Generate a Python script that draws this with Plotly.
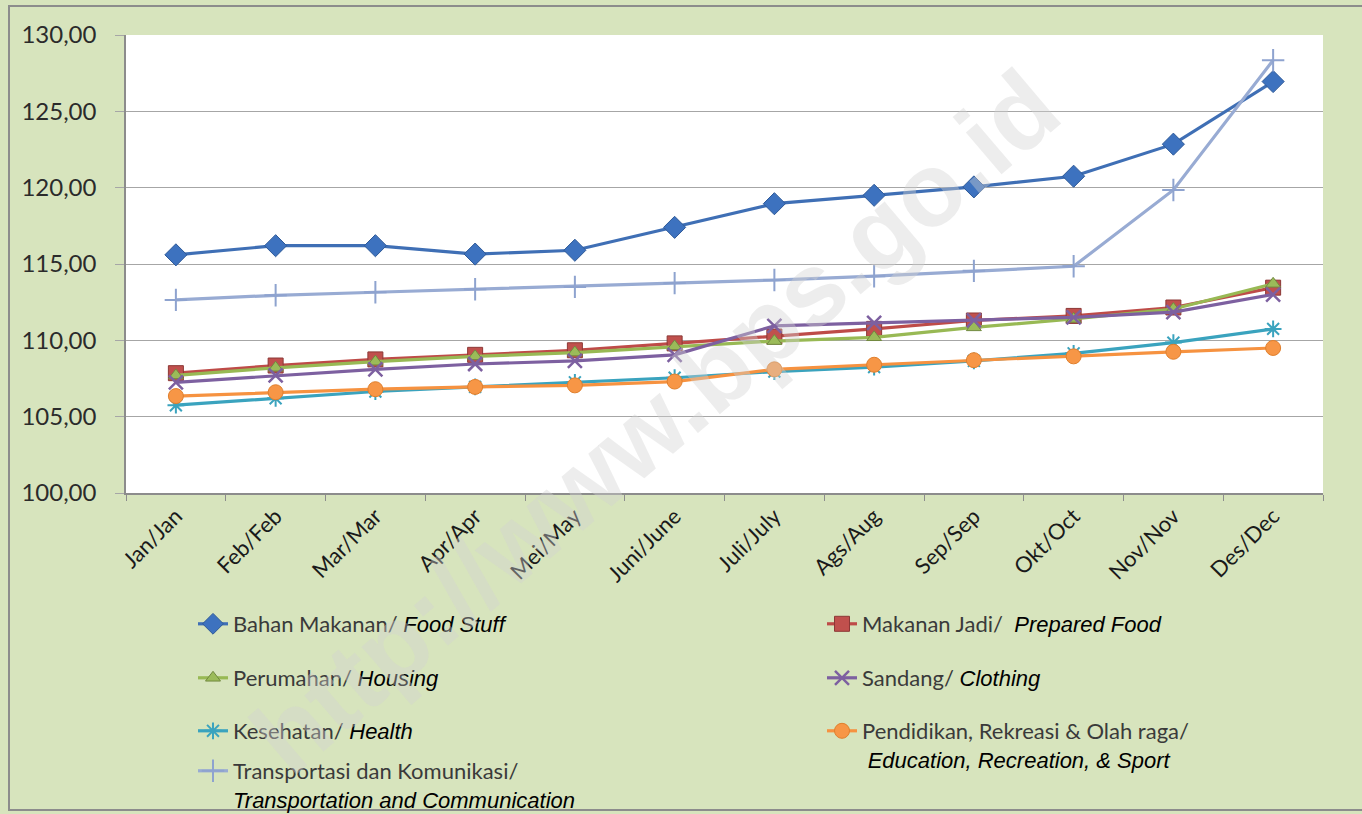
import plotly.graph_objects as go

months = ["Jan/Jan", "Feb/Feb", "Mar/Mar", "Apr/Apr", "Mei/May", "Juni/June",
          "Juli/July", "Ags/Aug", "Sep/Sep", "Okt/Oct", "Nov/Nov", "Des/Dec"]

bahan_makanan = [115.6, 116.2, 116.2, 115.65, 115.9, 117.4, 118.95, 119.5, 120.05, 120.75, 122.85, 126.95]
makanan_jadi = [107.85, 108.35, 108.75, 109.05, 109.35, 109.8, 110.25, 110.75, 111.3, 111.6, 112.15, 113.45]
perumahan = [107.7, 108.2, 108.6, 108.95, 109.2, 109.6, 109.95, 110.2, 110.85, 111.4, 112.05, 113.7]
sandang = [107.25, 107.7, 108.1, 108.45, 108.65, 109.05, 110.95, 111.15, 111.3, 111.5, 111.85, 113.0]
kesehatan = [105.75, 106.2, 106.65, 106.95, 107.25, 107.55, 107.95, 108.25, 108.65, 109.15, 109.85, 110.75]
pendidikan = [106.35, 106.6, 106.8, 106.95, 107.05, 107.3, 108.1, 108.4, 108.7, 108.95, 109.25, 109.5]
transportasi = [112.65, 112.95, 113.15, 113.35, 113.5, 113.75, 113.95, 114.2, 114.55, 114.85, 119.85, 128.35]

EN = "<span style='font-family:Liberation Sans;color:#000000'><i>{}</i></span>"

series = [
    ("Bahan Makanan/ " + EN.format("Food Stuff"), bahan_makanan,
     "#3F6FB5", dict(symbol="diamond", size=17, color="#3D72BF", line=dict(color="#2F5A98", width=1))),
    ("Makanan Jadi/  " + EN.format("Prepared Food"), makanan_jadi,
     "#BE4B48", dict(symbol="square", size=15, color="#C0504D", line=dict(color="#8C3836", width=1))),
    ("Perumahan/ " + EN.format("Housing"), perumahan,
     "#98B954", dict(symbol="triangle-up", size=13, color="#9BBB59", line=dict(color="#71893F", width=1))),
    ("Sandang/ " + EN.format("Clothing"), sandang,
     "#7D60A0", dict(symbol="x-thin-open", size=14, color="#7D60A0", line=dict(color="#7D60A0", width=2.5))),
    ("Kesehatan/ " + EN.format("Health"), kesehatan,
     "#3AA3BE", dict(symbol="asterisk-open", size=14, color="#3AA3BE", line=dict(color="#3AA3BE", width=2))),
    ("Pendidikan, Rekreasi &amp; Olah raga/<br> " + EN.format("Education, Recreation, &amp; Sport"), pendidikan,
     "#F69240", dict(symbol="circle", size=15, color="#F79646", line=dict(color="#E07F2C", width=1))),
    ("Transportasi dan Komunikasi/<br>" + EN.format("Transportation and Communication"), transportasi,
     "#98ABD3", dict(symbol="cross-thin-open", size=16, color="#8EA3CF", line=dict(color="#8EA3CF", width=2))),
]

W, H = 1362, 814

# legend placement (pixel coords of legend top-left)
leg_pos = [(193, 603), (822, 603), (193, 657), (822, 657), (193, 710), (822, 710), (193, 750)]

fig = go.Figure()
layout_legends = {}
for i, (name, vals, lc, mk) in enumerate(series):
    lname = "legend" if i == 0 else f"legend{i+1}"
    fig.add_trace(go.Scatter(
        x=months, y=vals, name=name, mode="lines+markers",
        line=dict(color=lc, width=3.2), marker=mk, legend=lname,
    ))
    px, py = leg_pos[i]
    layout_legends[lname] = dict(
        x=px / W, y=1 - py / H, xref="container", yref="container",
        xanchor="left", yanchor="top", bgcolor="rgba(0,0,0,0)", valign="top",
        font=dict(family="Lato", size=22, color="#3A3A3A"),
    )

fig.update_layout(**layout_legends)

fig.update_layout(
    width=W, height=H,
    paper_bgcolor="#D7E4BD",
    plot_bgcolor="#FFFFFF",
    separators=",.",
    margin=dict(l=126, r=39, t=35, b=321, autoexpand=False),
    showlegend=True,
    xaxis=dict(
        type="category", range=[-0.5, 11.5], tickson="boundaries",
        ticks="outside", ticklen=6, tickcolor="#8C8C8C", tickwidth=1,
        showline=True, linecolor="#8C8C8C", linewidth=1.5,
        showgrid=False, tickangle=-45,
        tickfont=dict(family="Lato", size=22, color="#1A1A1A"),
    ),
    yaxis=dict(
        range=[100, 130], dtick=5, tick0=100, tickformat=".2f",
        showgrid=True, gridcolor="#A6A6A6", gridwidth=1.3,
        ticks="outside", ticklen=9, tickcolor="#A6A6A6",
        showline=True, linecolor="#8C8C8C", linewidth=1.5,
        zeroline=False, ticklabelstandoff=14,
        tickfont=dict(family="Lato", size=24, color="#2B2B2B"),
    ),
    shapes=[
        dict(type="rect", xref="paper", yref="paper",
             x0=-117 / 1197, x1=(W + 20 - 126) / 1197,
             y0=-(810 - 493) / 458, y1=(493 - 6) / 458,
             line=dict(color="#8C8C8C", width=2), fillcolor="rgba(0,0,0,0)", layer="above"),
    ],
    annotations=[
        dict(text="<b>http://www.bps.go.id</b>", xref="paper", yref="paper",
             x=(655 - 126) / 1197, y=(493 - 422) / 458, xanchor="center", yanchor="middle",
             showarrow=False, textangle=-40.4,
             font=dict(family="Liberation Sans", size=104, color="rgba(210,210,210,0.40)")),
    ],
)

fig.write_html("out.html", config={"displayModeBar": False},
               post_script="document.body.style.margin='0px';document.body.style.overflow='hidden';")
